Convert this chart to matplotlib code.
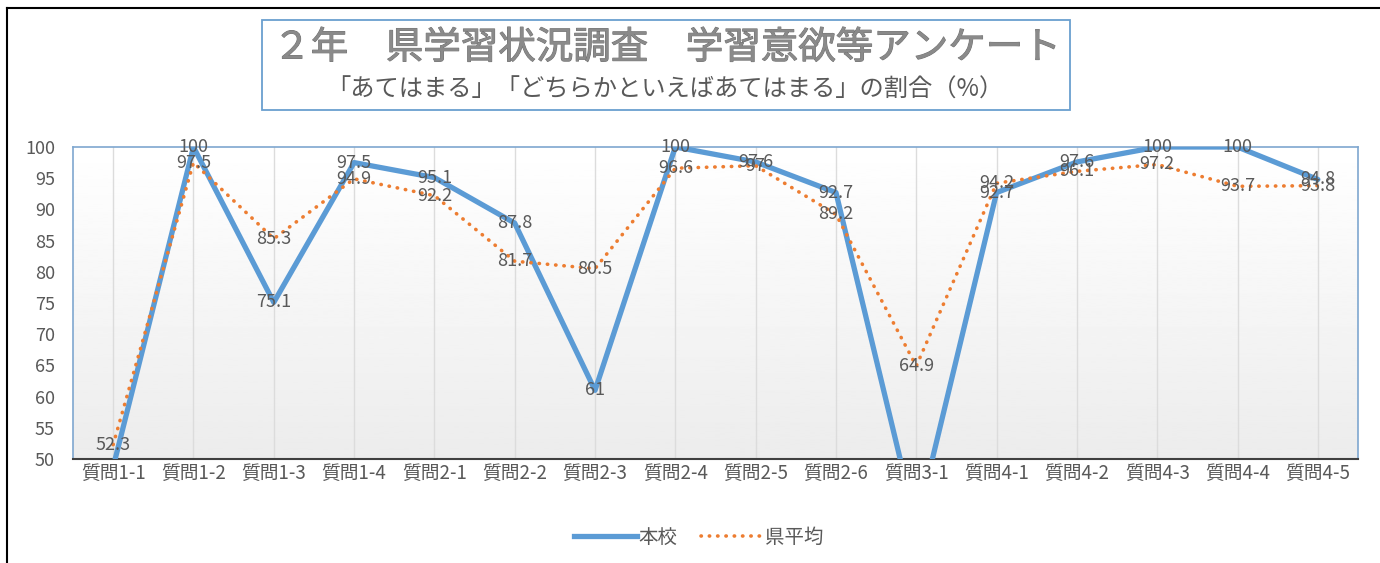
import numpy as np
import matplotlib.pyplot as plt
import matplotlib.patheffects as pe
from matplotlib.lines import Line2D
from matplotlib.patches import Rectangle

plt.rcParams['font.family'] = ['Noto Sans CJK JP', 'DejaVu Sans']

# データ
質問 = ['質問1-1', '質問1-2', '質問1-3', '質問1-4', '質問2-1', '質問2-2', '質問2-3', '質問2-4',
      '質問2-5', '質問2-6', '質問3-1', '質問4-1', '質問4-2', '質問4-3', '質問4-4', '質問4-5']
本校 = [48.7, 100, 75.1, 97.5, 95.1, 87.8, 61, 100, 97.6, 92.7, 39.3, 92.7, 97.6, 100, 100, 94.8]
県平均 = [52.3, 97.5, 85.3, 94.9, 92.2, 81.7, 80.5, 96.6, 97, 89.2, 64.9, 94.2, 96.1, 97.2, 93.7, 93.8]
y_ticks = list(range(50, 101, 5))

青 = '#5B9BD5'
橙 = '#ED7D31'
文字色 = '#595959'

fig = plt.figure(figsize=(13.8, 5.63), dpi=100)
ax = fig.add_axes([73 / 1380, 1 - 459 / 563, (1358 - 73) / 1380, (459 - 147) / 563])

# 背景のグラデーション
grad = np.linspace(0.925, 1.0, 256).reshape(-1, 1)
ax.imshow(grad, extent=[0, 1, 0, 1], transform=ax.transAxes, aspect='auto',
          cmap='gray', vmin=0, vmax=1, origin='lower', zorder=0)

x = np.arange(len(質問))
for xi in x:
    ax.axvline(xi, color='#dcdcdc', lw=1, zorder=1)

ax.plot(x, 本校, color=青, lw=3.8, solid_capstyle='round', zorder=3)
ax.plot(x, 県平均, color=橙, lw=2.6, linestyle=(0, (0.1, 2.2)), dash_capstyle='round', zorder=3)

# データラベル（軸の範囲内だけ）
for xi, v in zip(x, 本校):
    if v >= 50:
        ax.text(xi, v, f'{v:g}', ha='center', va='center', fontsize=13, color=文字色, zorder=4)
for xi, v in zip(x, 県平均):
    if v >= 50:
        ax.text(xi, v, f'{v:g}', ha='center', va='center', fontsize=13, color=文字色, zorder=4)

ax.set_xlim(-0.5, len(質問) - 0.5)
ax.set_ylim(50, 100)
ax.set_xticks(x)
ax.set_xticklabels(質問, fontsize=13.5, color=文字色)
ax.set_yticks(y_ticks)
ax.set_yticklabels([str(t) for t in y_ticks], fontsize=13, color=文字色)
ax.tick_params(length=0, pad=3)
ax.tick_params(axis='y', pad=13)
for s in ['left', 'top', 'right']:
    ax.spines[s].set_color('#7fa7cf')
    ax.spines[s].set_linewidth(1.2)
ax.spines['bottom'].set_color('#404040')
ax.spines['bottom'].set_linewidth(1.5)

# タイトル枠
fig.patches.append(Rectangle((262 / 1380, 1 - 110 / 563), (1070 - 262) / 1380, 90 / 563,
                             transform=fig.transFigure, fill=False, edgecolor='#6a9fcf', lw=1.3))
fig.text(667 / 1380, 1 - 48 / 563, '２年　県学習状況調査　学習意欲等アンケート',
         ha='center', va='center', fontsize=27, color='#8a8a8a',
         path_effects=[pe.withStroke(linewidth=0.7, foreground='#707070')])
fig.text(665 / 1380, 1 - 90 / 563, '「あてはまる」「どちらかといえばあてはまる」の割合（%）',
         ha='center', va='center', fontsize=17.5, color=文字色)

# 外枠
fig.add_artist(Line2D([7 / 1380, 7 / 1380], [0, 1 - 8 / 563], color='black', lw=1.5, transform=fig.transFigure))
fig.add_artist(Line2D([7 / 1380, 1], [1 - 8 / 563, 1 - 8 / 563], color='black', lw=1.5, transform=fig.transFigure))

# 凡例
handles = [Line2D([], [], color=青, lw=3.8),
           Line2D([], [], color=橙, lw=2.6, linestyle=(0, (0.1, 2.2)), dash_capstyle='round')]
fig.legend(handles, ['本校', '県平均'], loc='center', bbox_to_anchor=(699 / 1380, 1 - 537 / 563),
           ncol=2, frameon=False, fontsize=14, handlelength=3.2, handletextpad=0.1,
           columnspacing=1.2, labelcolor=文字色)

fig.savefig('out.png', dpi=100, facecolor='white')
